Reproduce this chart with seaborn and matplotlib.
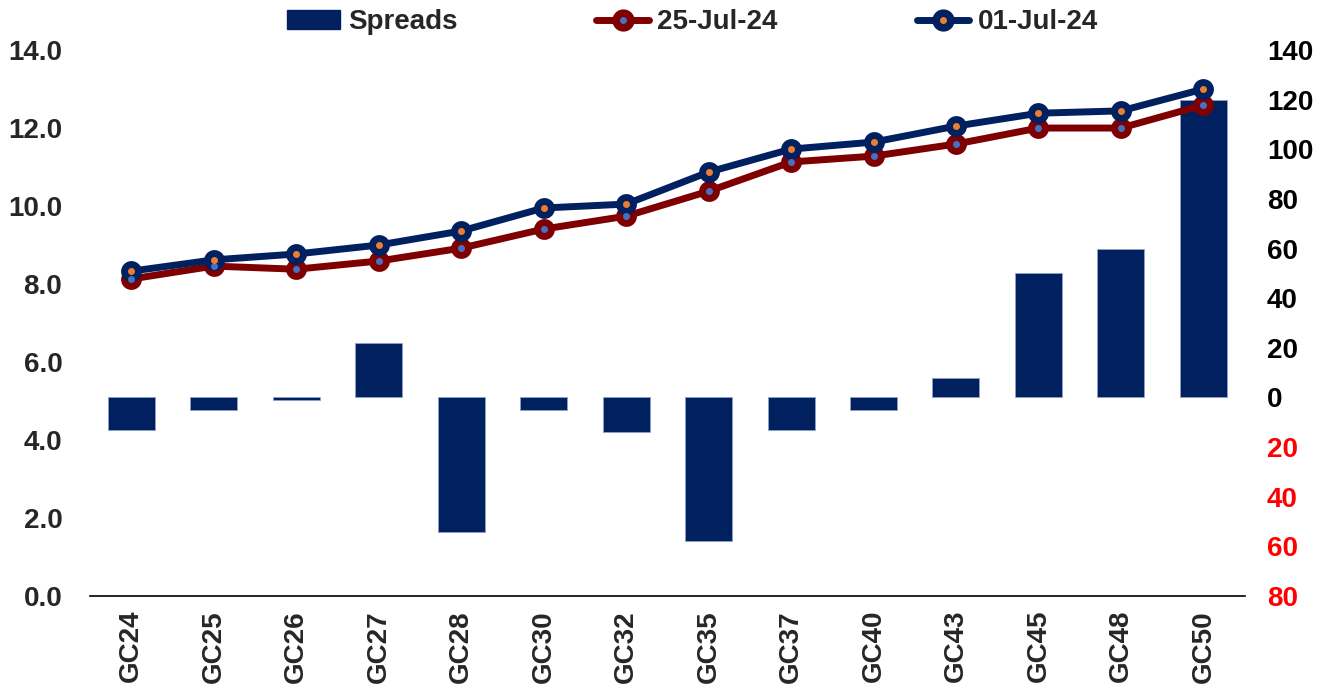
import matplotlib
matplotlib.use("Agg")
import matplotlib.pyplot as plt
import seaborn as sns
import pandas as pd
import numpy as np
from matplotlib.lines import Line2D
from matplotlib.patches import Patch
from matplotlib.legend_handler import HandlerTuple
from matplotlib.ticker import FuncFormatter, FormatStrFormatter

categories = ["GC24", "GC25", "GC26", "GC27", "GC28", "GC30", "GC32",
              "GC35", "GC37", "GC40", "GC43", "GC45", "GC48", "GC50"]
spreads = [-13, -5, -1, 22, -54, -5, -14, -58, -13, -5, 8, 50, 60, 120]
jul25 = [8.13, 8.46, 8.38, 8.59, 8.92, 9.41, 9.74, 10.38, 11.13, 11.28, 11.59, 12.00, 12.00, 12.59]
jul01 = [8.33, 8.62, 8.77, 9.00, 9.36, 9.95, 10.05, 10.87, 11.46, 11.64, 12.05, 12.38, 12.44, 13.00]

NAVY = "#002060"
MAROON = "#7F0000"
ORANGE = "#ED7D31"
LBLUE = "#4472C4"

sns.set_theme(style="white")
plt.rcParams["font.family"] = ["Liberation Sans", "DejaVu Sans"]
plt.rcParams["font.weight"] = "bold"

fig = plt.figure(figsize=(13.34, 6.95), dpi=100)
ax = fig.add_axes([0.0675, 0.1424, 0.8655, 0.7856])
ax2 = ax.twinx()

# bars on right axis
bar_df = pd.DataFrame({"cat": categories, "spread": spreads})
sns.barplot(data=bar_df, x="cat", y="spread", color=NAVY, saturation=1,
            width=0.57, ax=ax2, order=categories)
for p in ax2.patches:
    p.set_edgecolor("#8EA0C8")
    p.set_linewidth(0.6)

# lines on left axis
line_df = pd.DataFrame({
    "cat": categories * 2,
    "yield": jul25 + jul01,
    "series": ["25-Jul-24"] * len(categories) + ["01-Jul-24"] * len(categories),
})
sns.lineplot(data=line_df, x="cat", y="yield", hue="series", sort=False,
             palette={"25-Jul-24": MAROON, "01-Jul-24": NAVY},
             marker="o", markersize=15, markeredgewidth=0, linewidth=5,
             ax=ax, legend=False)
xs = np.arange(len(categories))
ax.plot(xs, jul25, linestyle="none", marker="o", markersize=4, color=LBLUE, zorder=5)
ax.plot(xs, jul01, linestyle="none", marker="o", markersize=4, color=ORANGE, zorder=5)

ax.set_zorder(ax2.get_zorder() + 1)
ax.patch.set_visible(False)

ax.set_xlim(-0.5, len(categories) - 0.5)
ax.set_ylim(0, 14)
ax.set_yticks(np.arange(0, 14.01, 2))
ax.yaxis.set_major_formatter(FormatStrFormatter("%.1f"))
ax2.set_ylim(-80, 140)
ax2.set_yticks(np.arange(-80, 141, 20))
ax2.yaxis.set_major_formatter(FuncFormatter(lambda v, p: f"{abs(v):.0f}"))

ax.set_xlabel("")
ax.set_ylabel("")
ax2.set_xlabel("")
ax2.set_ylabel("")

for a in (ax, ax2):
    for s in a.spines.values():
        s.set_visible(False)
    a.tick_params(length=0, labelsize=20)
    a.grid(False)
ax.spines["bottom"].set_visible(True)
ax.spines["bottom"].set_color("black")
ax.spines["bottom"].set_linewidth(1.2)

ax.set_xticks(xs)
ax.set_xticklabels(categories, rotation=90, fontsize=20, fontweight="bold")
ax.tick_params(axis="x", pad=10)
ax.tick_params(axis="y", pad=20)
ax2.tick_params(axis="y", pad=16)
for t in ax.get_yticklabels():
    t.set_fontweight("bold")
for t, v in zip(ax2.get_yticklabels(), ax2.get_yticks()):
    t.set_fontweight("bold")
    t.set_color("#FF0000" if v < 0 else "black")

handles = [
    Patch(facecolor=NAVY, edgecolor=NAVY),
    (Line2D([], [], color=MAROON, linewidth=5, marker="o", markersize=15),
     Line2D([], [], linestyle="none", marker="o", markersize=4, color=LBLUE)),
    (Line2D([], [], color=NAVY, linewidth=5, marker="o", markersize=15),
     Line2D([], [], linestyle="none", marker="o", markersize=4, color=ORANGE)),
]
fig.legend(handles, ["Spreads", "25-Jul-24", "01-Jul-24"], ncol=3,
           loc="center", bbox_to_anchor=(0.519, 0.968), frameon=False,
           prop={"size": 20, "weight": "bold"}, handlelength=1.9,
           handletextpad=0.3, columnspacing=5.0,
           handler_map={tuple: HandlerTuple(ndivide=1, pad=0)})

fig.savefig("out.png", dpi=100)
